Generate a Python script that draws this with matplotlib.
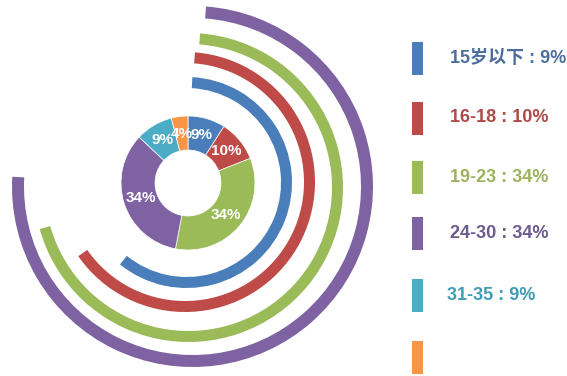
import matplotlib
matplotlib.use("Agg")
import matplotlib.pyplot as plt
from matplotlib.patches import Wedge, Rectangle

plt.rcParams['font.family'] = ['Liberation Sans', 'Noto Sans CJK SC', 'DejaVu Sans']

# ---- data ----
categories = ["15岁以下", "16-18", "19-23", "24-30", "31-35", ""]
shares = [9, 10, 34, 34, 9, 4]
pct_labels = ["9%", "10%", "34%", "34%", "9%", "4%"]
legend_labels = ["15岁以下 : 9%", "16-18 : 10%", "19-23 : 34%", "24-30 : 34%", "31-35 : 9%", ""]
colors = ["#4A7EBB", "#BE4B48", "#9BBB59", "#7E62A1", "#4BACC6", "#F79646"]
text_colors = ["#4B6E9E", "#B04A48", "#9CB35E", "#6B5B8E", "#3F9CB5", "#F79646"]

# decorative outer arcs: colour index, start angle (deg), end angle (deg)
arc_colors = [0, 1, 2, 3]
arc_start = [-129.1, -145.2, -164.4, -183.1]
arc_end = [86.8, 85.6, 85.7, 85.7]

W, H = 567, 376
fig = plt.figure(figsize=(W / 100, H / 100), dpi=100)
ax = fig.add_axes([0, 0, 1, 1])
ax.set_xlim(0, W)
ax.set_ylim(0, H)
ax.axis('off')

def py(y):
    return H - y

# donut
cx, cy = 188, 183
R = 67
ring_w = 34
wedges, _, autotexts = ax.pie(
    shares, colors=colors, startangle=90, counterclock=False,
    radius=R, center=(cx, py(cy)), frame=True,
    autopct=lambda p: "", pctdistance=0.74,
    wedgeprops=dict(width=ring_w, edgecolor='white', linewidth=0.5))
for t, lab in zip(autotexts, pct_labels):
    t.set_text(lab)
    t.set_color('white')
    t.set_fontweight('bold')
    t.set_fontsize(11)
ax.set_xlim(0, W)
ax.set_ylim(0, H)
ax.set_aspect('auto')
ax.axis('off')

# arcs (per-arc centre, outer radius, width) as layout
arc_centres = [(186.5, 182.5), (185, 182), (188.5, 187.5), (192.5, 186.5)]
arc_radii = [105.5, 130, 154.5, 180.5]
arc_widths = [11, 11, 11, 12]
for ci, a1, a2, (ax_c, ay_c), r, w in zip(arc_colors, arc_start, arc_end,
                                         arc_centres, arc_radii, arc_widths):
    ax.add_patch(Wedge((ax_c, py(ay_c)), r, a1, a2, width=w,
                       facecolor=colors[ci], edgecolor='none'))

# legend
row_y = [58, 118, 177, 233, 295, 357]
text_x = [450, 450, 450, 450, 447, 450]
for lab, col, tcol, y, tx in zip(legend_labels, colors, text_colors, row_y, text_x):
    ax.add_patch(Rectangle((412, py(y) - 16.5), 11, 33, facecolor=col, edgecolor='none'))
    if lab:
        ax.text(tx, py(y), lab, color=tcol, fontsize=13, fontweight='bold',
                ha='left', va='center')

fig.savefig("out.png", dpi=100)
